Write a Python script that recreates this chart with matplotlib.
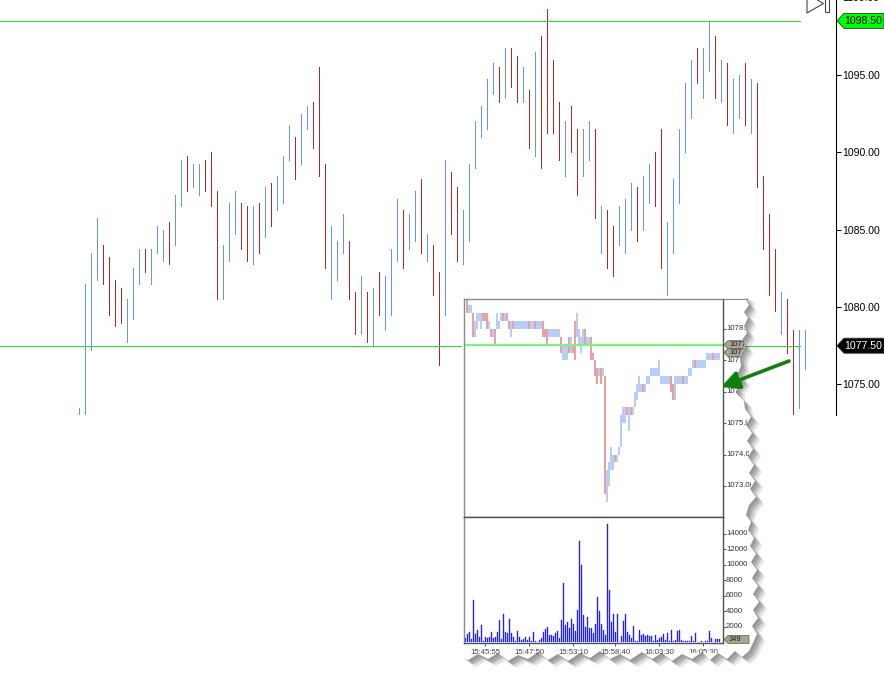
import numpy as np
import matplotlib
matplotlib.use("Agg")
import matplotlib.pyplot as plt
from matplotlib.patches import Polygon
from matplotlib.transforms import Bbox, blended_transform_factory

W, H = 884, 689
plt.rcParams['font.family'] = ['Liberation Sans', 'DejaVu Sans']

# ---------------- main chart: range bars ----------------
bar_high = [1073.5, 1081.5, 1083.5, 1085.75, 1084.0, 1083.25, 1081.75, 1081.25, 1080.5, 1082.5,
            1083.75, 1083.75, 1083.75, 1085.25, 1085.0, 1085.5, 1087.25, 1089.5, 1089.75, 1089.25,
            1089.25, 1089.5, 1090.0, 1087.5, 1084.0, 1086.75, 1087.5, 1086.75, 1086.5, 1086.5,
            1086.75, 1087.75, 1088.0, 1088.5, 1089.75, 1091.75, 1091.0, 1092.5, 1093.0, 1093.25,
            1095.5, 1089.25, 1085.25, 1084.25, 1086.0, 1084.25, 1081.0, 1082.0, 1081.0, 1081.25,
            1082.25, 1082.0, 1083.75, 1087.0, 1086.25, 1086.0, 1087.5, 1088.25, 1084.75, 1084.0,
            1082.25, 1089.5, 1088.75, 1087.75, 1086.25, 1089.25, 1092.0, 1093.0, 1094.75, 1095.75,
            1095.5, 1096.75, 1096.75, 1096.25, 1095.5, 1094.0, 1096.5, 1097.5, 1099.25, 1096.0,
            1093.25, 1092.0, 1093.0, 1091.5, 1091.5, 1092.0, 1091.5, 1086.5, 1086.25, 1085.25,
            1086.5, 1087.0, 1088.0, 1087.75, 1088.5, 1089.25, 1090.0, 1091.5, 1085.5, 1088.25,
            1091.5, 1094.5, 1096.0, 1096.75, 1096.75, 1098.5, 1097.5, 1096.0, 1095.75, 1094.75,
            1095.0, 1095.75, 1094.75, 1094.5, 1088.5, 1086.0, 1083.75, 1081.0, 1080.5, 1078.5,
            1078.5, 1078.5]
bar_low = [1072.5, 1072.5, 1077.25, 1081.75, 1081.5, 1079.5, 1078.75, 1079.0, 1077.75, 1079.25,
           1081.5, 1082.25, 1081.5, 1083.5, 1083.0, 1082.75, 1084.0, 1086.5, 1087.5, 1087.75,
           1087.25, 1087.5, 1086.5, 1080.5, 1080.5, 1083.0, 1084.75, 1083.75, 1083.0, 1082.75,
           1083.5, 1084.5, 1085.25, 1086.25, 1086.75, 1089.5, 1088.25, 1089.25, 1091.5, 1090.25,
           1088.5, 1082.5, 1080.5, 1081.75, 1083.5, 1080.5, 1078.25, 1078.25, 1077.75, 1077.5,
           1079.5, 1078.5, 1079.5, 1083.0, 1082.5, 1083.75, 1084.25, 1083.5, 1083.0, 1080.75,
           1076.25, 1079.5, 1084.75, 1083.0, 1082.75, 1084.25, 1089.0, 1091.0, 1091.5, 1093.75,
           1093.25, 1093.5, 1094.25, 1093.25, 1093.25, 1090.25, 1089.75, 1089.0, 1091.25, 1091.25,
           1089.5, 1088.5, 1090.0, 1087.25, 1088.5, 1089.5, 1085.75, 1083.5, 1082.5, 1082.0,
           1084.0, 1083.5, 1085.0, 1084.25, 1085.0, 1086.75, 1086.5, 1082.5, 1080.75, 1083.5,
           1086.75, 1090.0, 1092.25, 1094.5, 1093.5, 1095.25, 1093.5, 1093.25, 1091.75, 1091.25,
           1092.25, 1091.75, 1091.25, 1087.75, 1083.75, 1080.75, 1079.75, 1078.25, 1077.0, 1072.5,
           1073.5, 1076.0]
bar_up = [1, 1, 1, 1, 0, 0, 0, 0, 1, 1,
          1, 0, 1, 1, 1, 0, 1, 1, 0, 1,
          1, 0, 0, 0, 1, 1, 1, 0, 0, 1,
          0, 1, 0, 1, 1, 1, 0, 1, 1, 0,
          0, 0, 1, 1, 1, 0, 0, 1, 0, 1,
          0, 1, 1, 1, 0, 1, 1, 0, 1, 0,
          0, 1, 0, 0, 1, 1, 1, 1, 1, 1,
          0, 1, 0, 0, 1, 0, 1, 0, 0, 0,
          0, 1, 0, 0, 1, 1, 0, 1, 0, 0,
          1, 1, 1, 0, 1, 1, 0, 0, 1, 1,
          1, 1, 1, 0, 1, 1, 0, 1, 0, 1,
          1, 0, 1, 0, 0, 0, 0, 1, 0, 0,
          1, 1]
day_high = 1098.50
last_price = 1077.50
price_ticks = [1075.0, 1080.0, 1085.0, 1090.0, 1095.0]
top_tick = 1100.0

# ---------------- inset (zoomed screenshot) ----------------
ins_high = [1079.0, 1078.75, 1078.75, 1078.5, 1078.25, 1078.5, 1078.5, 1078.5, 1078.5, 1078.5,
            1078.5, 1078.25, 1078.0, 1078.0, 1078.0, 1078.5, 1078.25, 1078.5, 1078.5, 1078.5,
            1078.5, 1078.25, 1078.25, 1078.25, 1078.25, 1078.25, 1078.25, 1078.25, 1078.25, 1078.25,
            1078.25, 1078.25, 1078.25, 1078.25, 1078.25, 1078.25, 1078.25, 1078.25, 1078.25, 1078.0,
            1078.0, 1078.0, 1078.0, 1078.0, 1078.0, 1078.0, 1078.0, 1077.75, 1077.5, 1077.5,
            1077.5, 1077.75, 1077.75, 1077.5, 1078.25, 1078.5, 1078.0, 1077.75, 1078.0, 1078.0,
            1077.75, 1077.75, 1077.75, 1077.25, 1077.0, 1076.75, 1076.75, 1076.75, 1076.75, 1076.5,
            1073.5, 1073.75, 1074.25, 1074.0, 1074.0, 1074.0, 1074.25, 1075.25, 1075.5, 1075.5,
            1075.5, 1075.5, 1075.5, 1075.5, 1076.0, 1076.25, 1076.5, 1076.25, 1076.25, 1076.25,
            1076.5, 1076.5, 1076.75, 1076.75, 1076.75, 1076.75, 1077.0, 1076.5, 1076.5, 1076.5,
            1076.5, 1076.5, 1076.5, 1076.25, 1076.5, 1076.5, 1076.5, 1076.5, 1076.5, 1076.5,
            1076.5, 1076.75, 1076.75, 1077.0, 1077.0, 1077.0, 1077.0, 1077.0, 1077.0, 1077.0,
            1077.25, 1077.25, 1077.25, 1077.25, 1077.25, 1077.25, 1077.25]
ins_low = [1078.5, 1078.5, 1078.5, 1077.75, 1077.75, 1078.0, 1078.25, 1078.0, 1078.25, 1078.25,
           1078.0, 1078.0, 1077.75, 1077.75, 1077.5, 1078.0, 1078.0, 1078.25, 1078.25, 1078.25,
           1078.25, 1078.0, 1077.75, 1078.0, 1078.0, 1078.0, 1078.0, 1078.0, 1078.0, 1078.0,
           1078.0, 1078.0, 1078.0, 1078.0, 1078.0, 1078.0, 1078.0, 1078.0, 1077.75, 1077.75,
           1077.5, 1077.75, 1077.75, 1077.75, 1077.75, 1077.75, 1077.75, 1077.25, 1077.0, 1077.0,
           1077.0, 1077.25, 1077.25, 1077.25, 1077.0, 1077.75, 1077.5, 1077.25, 1077.5, 1077.5,
           1077.5, 1077.5, 1077.0, 1077.0, 1076.5, 1076.25, 1076.5, 1076.25, 1076.5, 1072.75,
           1072.5, 1073.0, 1073.5, 1073.5, 1073.75, 1073.75, 1074.0, 1074.25, 1075.0, 1075.0,
           1075.25, 1074.75, 1075.25, 1075.25, 1075.5, 1075.75, 1076.0, 1076.0, 1076.0, 1076.0,
           1076.25, 1076.25, 1076.5, 1076.5, 1076.5, 1076.5, 1076.5, 1076.25, 1076.25, 1076.25,
           1076.25, 1076.25, 1076.0, 1075.75, 1075.75, 1076.25, 1076.25, 1076.25, 1076.25, 1076.25,
           1076.25, 1076.5, 1076.5, 1076.75, 1076.75, 1076.75, 1076.75, 1076.75, 1076.75, 1076.75,
           1077.0, 1077.0, 1077.0, 1077.0, 1077.0, 1077.0, 1077.0]
ins_up = [0, 1, 1, 0, 1, 1, 1, 1, 0, 0,
          0, 1, 0, 1, 0, 1, 1, 1, 0, 1,
          0, 0, 1, 0, 1, 1, 1, 1, 1, 1,
          1, 0, 1, 1, 0, 1, 1, 1, 0, 0,
          0, 1, 1, 1, 1, 1, 1, 0, 1, 1,
          1, 0, 1, 0, 0, 1, 1, 1, 1, 0,
          1, 1, 0, 0, 0, 0, 1, 0, 1, 0,
          1, 1, 1, 1, 0, 1, 1, 1, 1, 1,
          0, 1, 0, 1, 1, 1, 1, 1, 0, 1,
          1, 1, 1, 1, 1, 1, 1, 1, 1, 1,
          1, 1, 0, 0, 1, 1, 1, 1, 0, 1,
          1, 1, 1, 1, 0, 1, 1, 1, 1, 1,
          1, 1, 1, 0, 1, 1, 1]
ins_ticks = [1073.0, 1074.0, 1075.0, 1076.0, 1077.0, 1078.0]
ins_tags = [1077.50, 1077.25]
volume = [560, 1100, 1300, 470, 5400, 1070, 1550, 650, 2200, 130,
          730, 560, 730, 1330, 600, 650, 1330, 2900, 430, 3700,
          1380, 1200, 3050, 1250, 690, 130, 1460, 730, 300, 430,
          690, 340, 730, 130, 1330, 130, 90, 260, 520, 1380,
          1760, 1980, 990, 900, 860, 1200, 1460, 520, 2900, 7650,
          2280, 2670, 1850, 3000, 2370, 1500, 4200, 13100, 9900, 3570,
          1940, 3200, 1850, 1850, 1200, 2400, 5850, 4000, 2370, 1550,
          990, 15300, 6800, 2580, 3700, 1380, 3700, 90, 820, 2800,
          3650, 1290, 990, 520, 2100, 215, 130, 1630, 900, 1070,
          820, 900, 820, 820, 215, 900, 300, 560, 730, 1120,
          260, 1160, 170, 1630, 130, 300, 1500, 1550, 260, 130,
          170, 130, 170, 770, 215, 1200, 90, 90, 130, 90,
          215, 130, 1500, 560, 90, 390, 430, 390]
vol_ticks = [2000, 4000, 6000, 8000, 10000, 12000, 14000]
vol_tag = 349
time_labels = ['15:45:55', '15:47:50', '15:53:10', '15:58:40', '16:03:30', '16:05:30']
time_label_bars = [10, 32, 54, 75, 97, 119]

BLUE, RED, GREEN = '#6495ed', '#a52a2a', '#22e622'
LBLUE, LRED = '#a2c1f4', '#e38585'
VBLUE = '#2020ff'

# torn paper outline of the pasted inset (pixel coords, y down)
RX = [747, 746, 749, 744, 748, 744, 747, 742, 745, 742, 740, 741, 738, 742, 737, 737, 744, 745, 751, 746,
      752, 747, 753, 748, 754, 749, 755, 750, 756, 749, 746, 751, 748, 754, 750, 756, 751, 757, 752, 758,
      753, 759, 753, 758, 752, 757, 753, 749]
RY = [296, 300, 305, 312, 318, 326, 333, 340, 347, 352, 358, 366, 373, 380, 387, 394, 401, 409, 417, 425,
      433, 441, 449, 457, 465, 473, 481, 489, 497, 505, 515, 522, 530, 538, 546, 554, 562, 570, 578, 586,
      594, 602, 610, 618, 626, 634, 643, 651]
BX = [749, 742, 735, 727, 718, 710, 702, 692, 682, 672, 662, 652, 642, 630, 620, 610, 600, 590, 580, 568,
      558, 548, 538, 528, 518, 508, 498, 488, 478, 468, 462]
BY = [651, 657, 651, 659, 653, 660, 652, 659, 654, 661, 653, 659, 652, 660, 654, 659, 651, 658, 653, 661,
      654, 660, 652, 659, 655, 661, 653, 659, 654, 660, 656]

fig = plt.figure(figsize=(W / 100, H / 100), dpi=100)
fig.patch.set_facecolor('white')


def px_axes(x0, y0, x1, y1, **kw):
    return fig.add_axes([x0 / W, 1 - y1 / H, (x1 - x0) / W, (y1 - y0) / H], **kw)


def to_px(axis, xv, yv):
    dx, dy = axis.transData.transform((xv, yv))
    return dx, H - dy


def edge_x(ypx):
    return np.interp(ypx, RY, RX)


def edge_y(xpx):
    return np.interp(xpx, BX[::-1], BY[::-1])


def clip_text(t, right=W, bottom=H):
    t.set_clip_on(True)
    t.set_clip_path(None)
    t.set_clip_box(Bbox.from_extents(0, H - bottom, right, H))


# ---- main chart ----
ax = px_axes(0, 0, 836, 415, zorder=1)
xi = np.arange(len(bar_high))
ax.vlines(xi, bar_low, bar_high, colors=[BLUE if u else RED for u in bar_up],
          lw=0.72, antialiased=False)
ax.set_xlim(-13.22, 126.12)
ax.set_ylim(1073.02, 1099.85)
ax.hlines([day_high, last_price], -13.22, 120.1, colors=GREEN, lw=0.72, antialiased=False)
for s in ['left', 'top', 'bottom']:
    ax.spines[s].set_visible(False)
ax.spines['right'].set_color('black')
ax.spines['right'].set_linewidth(0.8)
ax.set_xticks([])
ax.yaxis.tick_right()
ax.set_yticks(price_ticks)
ax.set_yticklabels([f'{p:.2f}' for p in price_ticks])
ax.tick_params(axis='y', direction='out', length=3.6, width=0.8, pad=1.0, labelsize=7.6)
ax.text(1 + 6 / 836, top_tick, f'{top_tick:.2f}',
        transform=blended_transform_factory(ax.transAxes, ax.transData),
        fontsize=7.6, va='center', ha='left', clip_on=False)

# ---- paper (torn screenshot) ----
paper = px_axes(0, 0, W, H, zorder=2)
paper.set_xlim(0, W)
paper.set_ylim(H, 0)
paper.axis('off')
paper.patch.set_visible(False)
outline = np.array([(462, 296)] + list(zip(RX, RY)) + list(zip(BX, BY)), dtype=float)
for dx, dy, a in [(2, 2, .22), (4, 4, .22), (6, 5, .18), (8, 7, .14)]:
    paper.add_patch(Polygon(outline + (dx, dy), closed=True, fc='#4a4a4a', ec='none', alpha=a))
torn = Polygon(outline, closed=True, fc='white', ec='none', zorder=1)
paper.add_patch(torn)
paper.plot([723, 747], [298.5, 298.5], color='#8c8c8c', lw=0.8, zorder=2)

# ---- inset price ----
ia = px_axes(464, 299, 723, 517, zorder=3)
m_price = np.arange(len(ins_high)) + 1
ia.vlines(m_price, ins_low, ins_high, colors=[LBLUE if u else LRED for u in ins_up], lw=1.1)
ia.axhline(last_price, color='#7cf57c', lw=1.6)
ia.set_xlim(-0.65, 128.85)
ia.set_ylim(1072.01, 1078.955)
ia.set_xticks([])
ia.yaxis.tick_right()
ia.set_yticks(ins_ticks)
ia.set_yticklabels([])
ia.tick_params(axis='y', direction='out', length=2.5, width=0.7, color='#555555')
for s, c in [('top', '#8c8c8c'), ('left', '#8c8c8c'), ('right', '#505050'), ('bottom', '#505050')]:
    ia.spines[s].set_color(c)
    ia.spines[s].set_linewidth(1.0)

# ---- inset volume ----
va = px_axes(464, 517, 723, 643, zorder=3)
va.bar(np.arange(len(volume)), volume, width=0.7, color=VBLUE, edgecolor=VBLUE, linewidth=0.25)
va.set_xlim(-0.65, 128.85)
va.set_ylim(-103, 16155)
for s, c in [('top', '#505050'), ('left', '#8c8c8c'), ('right', '#505050'), ('bottom', '#505050')]:
    va.spines[s].set_color(c)
    va.spines[s].set_linewidth(1.0)
va.yaxis.tick_right()
va.set_yticks(vol_ticks)
va.set_yticklabels([])
va.set_xticks(time_label_bars)
va.set_xticklabels([])
va.tick_params(direction='out', length=2.5, width=0.7, color='#555555')

# inset axis labels and tags, cut by the torn edge
for p in ins_ticks:
    x0, y0 = to_px(ia, 128.85, p)
    t = paper.text(x0 + 3, y0, f'{p:.2f}', fontsize=5.6, color='#333333', va='center', ha='left', zorder=5)
    clip_text(t, right=edge_x(y0) - 0.5)
for v in vol_ticks:
    x0, y0 = to_px(va, 128.85, v)
    t = paper.text(x0 + 3, y0, f'{v}', fontsize=5.6, color='#333333', va='center', ha='left', zorder=5)
    clip_text(t, right=edge_x(y0) - 0.5)
for m, lab in zip(time_label_bars, time_labels):
    x0, y0 = to_px(va, m, -103)
    t = paper.text(x0, y0 + 9, lab, fontsize=5.6, color='#444444', va='center', ha='center', zorder=5)
    clip_text(t, bottom=edge_y(x0) - 0.5)


def gray_tag(axis, yval, text):
    x0, y0 = to_px(axis, 128.85, yval)
    pts = [(x0 + 1, y0), (x0 + 5, y0 - 4), (x0 + 26, y0 - 4), (x0 + 26, y0 + 4), (x0 + 5, y0 + 4)]
    tag = Polygon(pts, closed=True, fc='#a9a48f', ec='#6e6a5c', lw=0.6, zorder=4)
    paper.add_patch(tag)
    tag.set_clip_path(torn)
    t = paper.text(x0 + 6, y0, text, fontsize=5.4, color='#222222', va='center', ha='left', zorder=5)
    clip_text(t, right=edge_x(y0) - 0.5)


for p in ins_tags:
    gray_tag(ia, p, f'{p:.2f}')
gray_tag(va, vol_tag, f'{vol_tag}')

# ---- overlay: price tags, arrow, icon ----
ov = px_axes(0, 0, W, H, zorder=4)
ov.set_xlim(0, W)
ov.set_ylim(H, 0)
ov.axis('off')
ov.patch.set_visible(False)

for price, fc, tc in [(day_high, '#00ff00', 'black'), (last_price, 'black', 'white')]:
    _, yp = to_px(ax, 0, price)
    ov.add_patch(Polygon([(837, yp), (844, yp - 7.5), (884, yp - 7.5), (884, yp + 7.5), (844, yp + 7.5)],
                         closed=True, fc=fc, ec='#333333', lw=0.6))
    ov.text(844.5, yp + 0.5, f'{price:.2f}', fontsize=7.6, color=tc, va='center', ha='left')

ov.annotate('', xy=(721, 387), xytext=(789, 361),
            arrowprops=dict(arrowstyle='-|>,head_length=0.9,head_width=0.45', color='#0f7f0f',
                            lw=2.6, mutation_scale=12, shrinkA=0, shrinkB=0))

ov.add_patch(Polygon([(807, -6), (823.5, 3.5), (807, 13)], closed=True, fc='white', ec='#444444', lw=0.8))
ov.add_patch(Polygon([(825, -2), (829, -2), (829, 12), (825, 12)], closed=True, fc='white', ec='#444444', lw=0.8))

fig.savefig('out.png', dpi=100)
